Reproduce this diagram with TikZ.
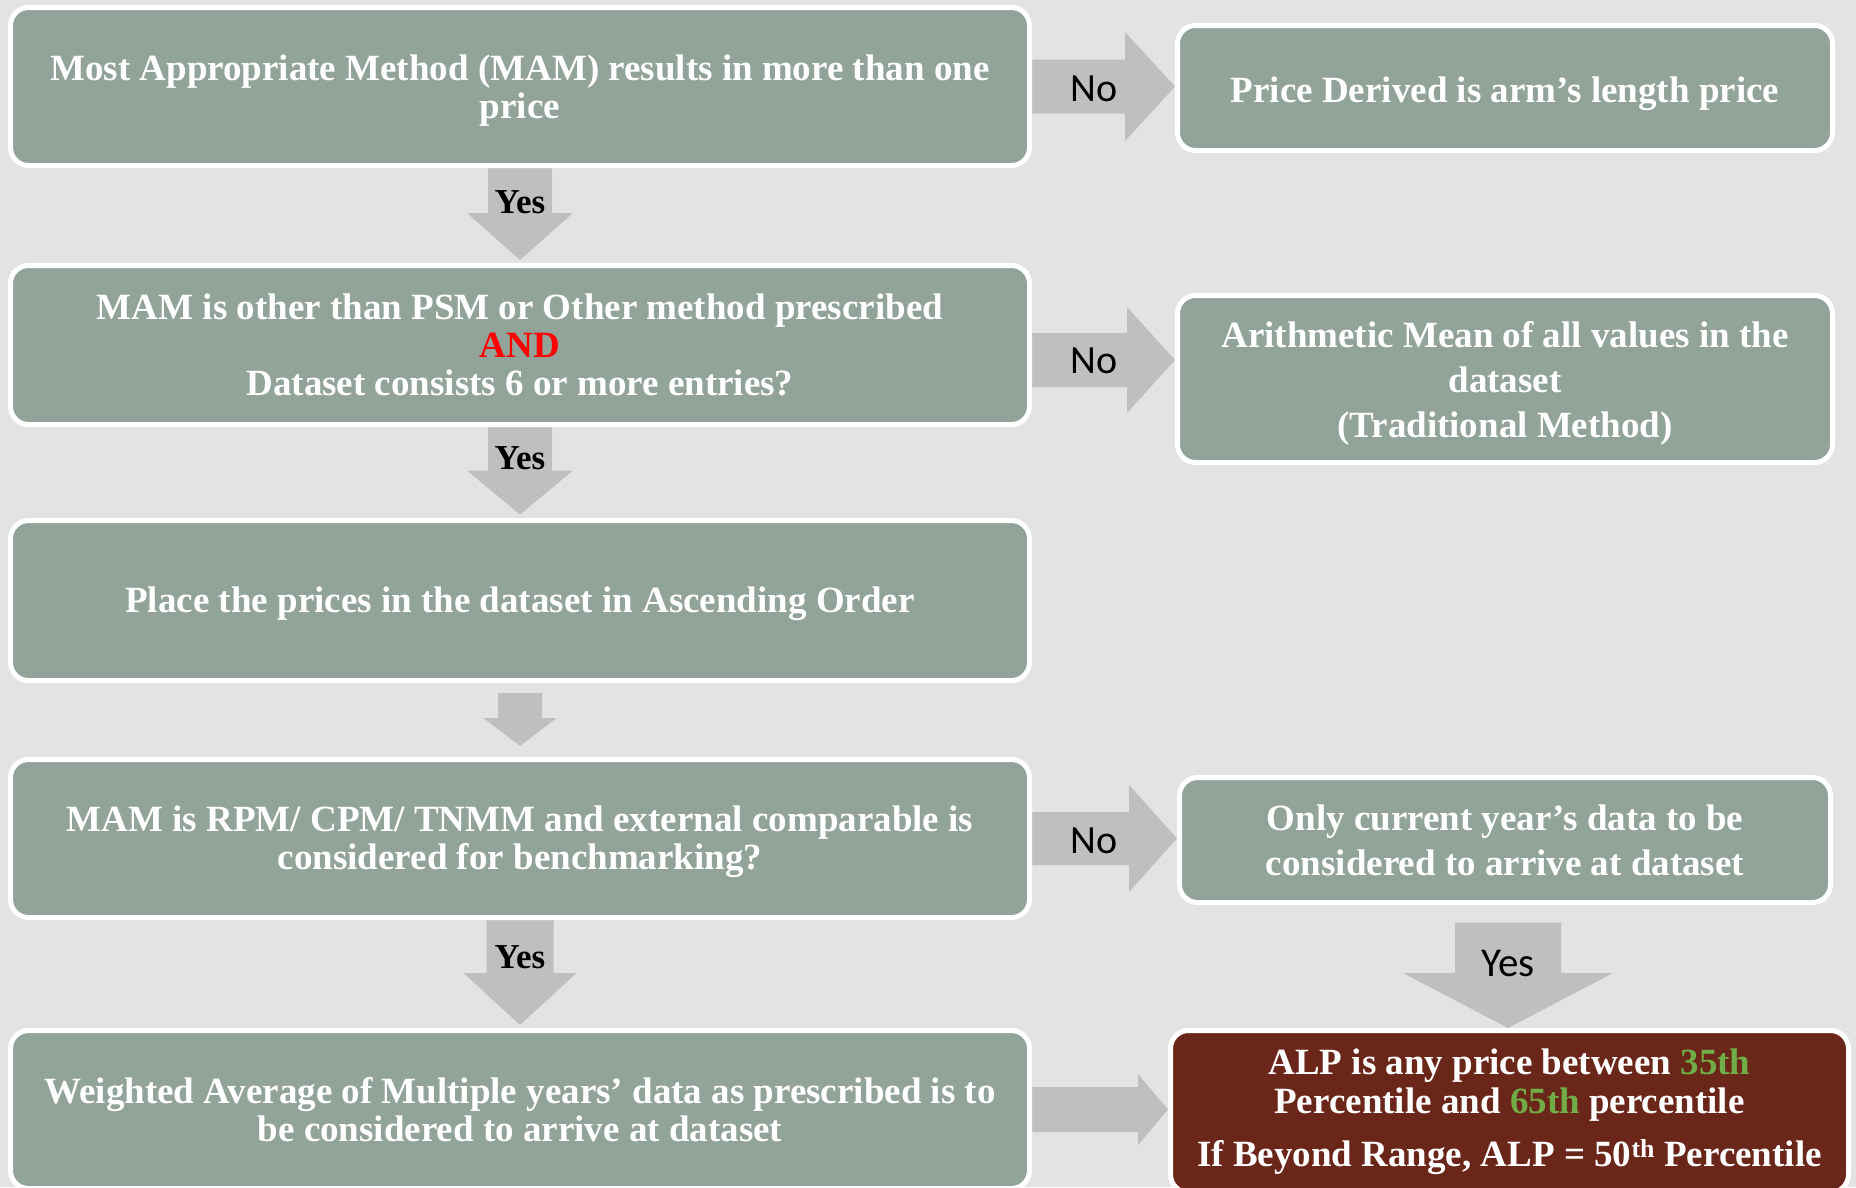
\documentclass[tikz,border=0pt]{standalone}
\usepackage{fontspec}
\setmainfont{Liberation Serif}
\newfontfamily\labelfont{Carlito}
\usetikzlibrary{calc}

\definecolor{pagebg}{RGB}{227,227,227}
\definecolor{boxfill}{RGB}{146,163,153}
\definecolor{alpfill}{RGB}{107,38,26}
\definecolor{arrowgray}{RGB}{191,191,191}
\definecolor{pctgreen}{RGB}{112,173,71}
\definecolor{andred}{RGB}{255,0,0}

\pgfdeclarelayer{backdrop}
\pgfdeclarelayer{arrows}
\pgfsetlayers{backdrop,arrows,main}

% invisible strut that sets the height of a first line
\newcommand\topstrut[1]{\rule{0pt}{#1}}

\tikzset{
  stepbox/.style={draw=white, line width=5pt, fill=boxfill, rounded corners=18pt,
    text=white, align=center, inner sep=0pt,
    font=\fontsize{37}{38}\selectfont\bfseries},
  leftbox/.style={stepbox, minimum width=1019pt},
  rightbox/.style={stepbox, font=\fontsize{37}{45}\selectfont\bfseries},
  resultbox/.style={stepbox, fill=alpfill, font=\fontsize{37}{39}\selectfont\bfseries},
  blockarrow/.style={fill=arrowgray},
  nolabel/.style={font=\labelfont\fontsize{40}{40}\selectfont, text=black, inner sep=0pt},
  yeslabel/.style={font=\fontsize{35}{35}\selectfont\bfseries, text=black, inner sep=0pt, anchor=base},
  yesright/.style={font=\labelfont\fontsize{41}{41}\selectfont, text=black, inner sep=0pt, anchor=base}
}

% block arrow pointing right: start, target, shaft half-width, head half-width, head length
\newcommand\rightblock[5]{%
  \fill[blockarrow] let \p1=(#1), \p2=(#2) in
    (\x1,\y1+#3) -- (\x2-#5,\y1+#3) -- (\x2-#5,\y1+#4) -- (\x2,\y1)
    -- (\x2-#5,\y1-#4) -- (\x2-#5,\y1-#3) -- (\x1,\y1-#3) -- cycle;}
% block arrow pointing down: start, target, shaft half-width, head half-width, head length
\newcommand\downblock[5]{%
  \fill[blockarrow] let \p1=(#1), \p2=(#2) in
    (\x1-#3,\y1) -- (\x1-#3,\y2+#5) -- (\x1-#4,\y2+#5) -- (\x1,\y2)
    -- (\x1+#4,\y2+#5) -- (\x1+#3,\y2+#5) -- (\x1+#3,\y1) -- cycle;}

\begin{document}
\begin{tikzpicture}[x=1pt, y=-1pt]
\useasboundingbox (0,0) rectangle (1856,1187);
\begin{pgfonlayer}{backdrop}
  \fill[pagebg] (0,0) rectangle (1856,1187);
\end{pgfonlayer}

% left column: decision steps
\node[leftbox, minimum height=158pt] (b1) at (520,86.5)
  {\topstrut{34pt}Most Appropriate Method (MAM) results in more than one\\price};
\node[leftbox, minimum height=159pt] (b2) at (520,345)
  {MAM is other than PSM or Other method prescribed\\\textcolor{andred}{AND}\\Dataset consists 6 or more entries?};
\node[leftbox, minimum height=160pt] (b3) at (520,600.5)
  {\topstrut{32pt}Place the prices in the dataset in Ascending Order};
\node[leftbox, minimum height=158pt] (b4) at (520,838.5)
  {\topstrut{32pt}MAM is RPM/ CPM/ TNMM and external comparable is\\considered for benchmarking?};
\node[leftbox, minimum height=158pt] (b5) at (520,1109.5)
  {Weighted Average of Multiple years’ data as prescribed is to\\be considered to arrive at dataset};

% right column: outcomes
\node[rightbox, minimum width=655pt, minimum height=125pt] (r1) at (1505,88)
  {\topstrut{37pt}Price Derived is arm’s length price};
\node[rightbox, minimum width=655pt, minimum height=167pt] (r2) at (1505,379)
  {\topstrut{35pt}Arithmetic Mean of all values in the\\dataset\\(Traditional Method)};
\node[rightbox, minimum width=651pt, minimum height=125pt] (r3) at (1505,840)
  {\topstrut{27pt}Only current year’s data to be\\considered to arrive at dataset};
\node[resultbox, minimum width=678pt, minimum height=162pt] (alp) at (1509.5,1111.5)
  {ALP is any price between \textcolor{pctgreen}{35th}\\Percentile and \textcolor{pctgreen}{65th} percentile\\[14pt]If Beyond Range, ALP = 50\textsuperscript{th} Percentile};

% connectors
\coordinate (n2) at ($(b2.east)+(0,15)$);
\coordinate (t1) at ($(b2.north)+(0,-3)$);
\coordinate (t2) at ($(b3.north)+(0,-3.5)$);
\coordinate (s3) at ($(b3.south)+(0,10)$);
\coordinate (t3) at ($(b4.north)+(0,-11)$);
\coordinate (t4) at ($(b5.north)+(0,-3)$);
\coordinate (s5) at ($(r3.south)+(3,17.5)$);
\begin{pgfonlayer}{arrows}
  \rightblock{b1.east}{r1.west}{27pt}{54.5pt}{50pt}
  \rightblock{n2}{r2.west}{27pt}{53pt}{48pt}
  \rightblock{b4.east}{r3.west}{26.5pt}{53.5pt}{48pt}
  \rightblock{b5.east}{alp.west}{22.5pt}{35.5pt}{30pt}
  \downblock{b1.south}{t1}{32pt}{53pt}{47pt}
  \downblock{b2.south}{t2}{32pt}{53pt}{44pt}
  \downblock{s3}{t3}{22pt}{36.5pt}{28pt}
  \downblock{b4.south}{t4}{33.5pt}{56.5pt}{52pt}
  \downblock{s5}{alp.north}{53pt}{105pt}{55pt}
\end{pgfonlayer}

% connector labels
\node[nolabel] (no1) at (1094,89) {No};
\node[nolabel] (no2) at (1094,361) {No};
\node[nolabel] (no3) at (1094,841) {No};
\node[yeslabel] (yes1) at (520,213) {Yes};
\node[yeslabel] (yes2) at (520,469) {Yes};
\node[yeslabel] (yes3) at (520,968) {Yes};
\node[yesright] (yes4) at (1508,976) {Yes};
\end{tikzpicture}
\end{document}
